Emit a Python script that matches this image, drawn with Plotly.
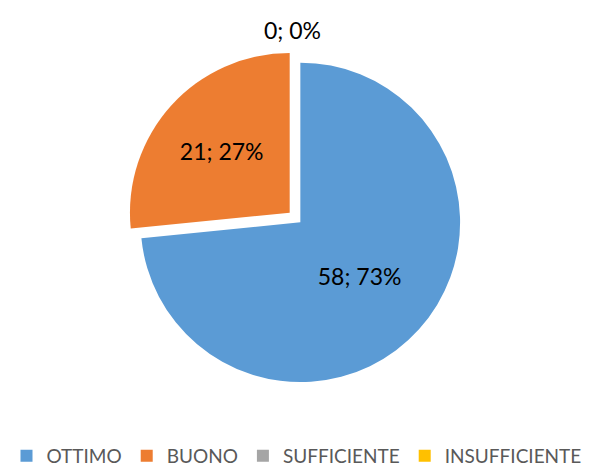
import plotly.graph_objects as go

labels = ["OTTIMO", "BUONO", "SUFFICIENTE", "INSUFFICIENTE"]
values = [58, 21, 0, 0]
colors = ["#5B9BD5", "#ED7D31", "#A5A5A5", "#FFC000"]

total = sum(values)
templates = ["%{value}; %{percent:.0%}" if v > 0 else "" for v in values]
zero_label = f"{values[2]}; {round(100 * values[2] / total)}%"

FONT = "Lato, Open Sans, sans-serif"

fig = go.Figure(go.Pie(
    labels=labels,
    values=values,
    marker=dict(colors=colors, line=dict(color="white", width=0)),
    sort=False,
    direction="clockwise",
    rotation=0,
    pull=[0.045, 0.045, 0, 0],
    texttemplate=templates,
    textposition="inside",
    insidetextorientation="horizontal",
    textfont=dict(family=FONT, size=23, color="black"),
    hoverinfo="label+value+percent",
    domain=dict(x=[0.216, 0.779], y=[0.19, 0.894]),
    showlegend=True,
))

fig.add_annotation(
    text=zero_label, x=0.494, y=0.937, xref="paper", yref="paper",
    xanchor="center", yanchor="middle",
    showarrow=False, font=dict(family=FONT, size=23, color="black"),
)

fig.update_layout(
    width=593, height=475,
    margin=dict(l=0, r=0, t=0, b=0),
    paper_bgcolor="white",
    plot_bgcolor="white",
    legend=dict(
        orientation="h", x=0.5, xanchor="center", y=0.0, yanchor="bottom",
        font=dict(family=FONT, size=19, color="#595959"),
        itemsizing="constant",
        traceorder="normal",
        tracegroupgap=0,
    ),
)

fig.write_html("out.html")
